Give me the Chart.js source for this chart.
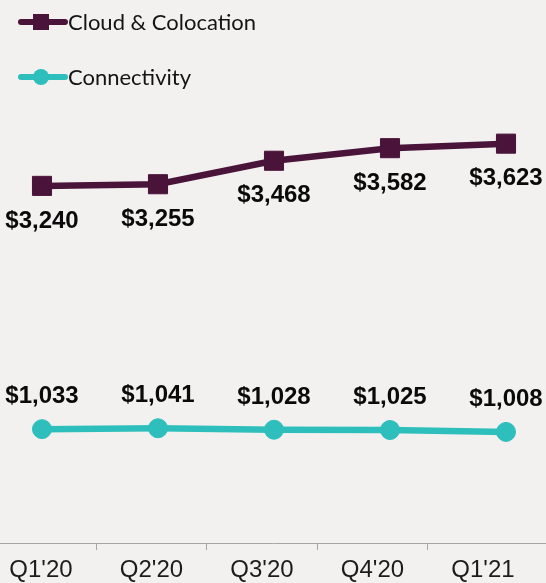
<!DOCTYPE html>
<html>
<head>
<meta charset="utf-8">
<script src="https://cdn.jsdelivr.net/npm/chart.js@4.4.0/dist/chart.umd.min.js"></script>
<style>
html, body { margin: 0; padding: 0; background: #f2f1f0; }
#wrap { position: relative; width: 546px; height: 583px; overflow: hidden; background: #f2f1f0; }
#chart { position: absolute; left: 0; top: 0; }
.item { position: absolute; left: 18px; height: 20px; display: flex; align-items: center; }
.sym { position: relative; width: 50px; height: 20px; flex: none; }
.sym .ln { position: absolute; left: 0; right: 0; top: 7px; height: 6px; border-radius: 3px; }
.sym .mk { position: absolute; left: 15px; top: 2px; width: 16px; height: 16px; }
.txt { font-family: Lato, "Open Sans", sans-serif; font-size: 22px; color: #141414; line-height: 20px; white-space: nowrap; }
</style>
</head>
<body>
<div id="wrap">
  <canvas id="chart" width="546" height="583"></canvas>
  <div id="legend"></div>
</div>
<script>
// ---- data ----
const categories = ["Q1'20", "Q2'20", "Q3'20", "Q4'20", "Q1'21"];
const seriesNames = ["Cloud & Colocation", "Connectivity"];
const cloudColocation = [3240, 3255, 3468, 3582, 3623];
const connectivity = [1033, 1041, 1028, 1025, 1008];

// ---- styles ----
const PURPLE = '#4a1339';
const TEAL = '#2ebfbc';
const AXIS = '#a6a6a6';

function toPoints(arr) { return arr.map((v, i) => ({ x: i, y: v })); }

// legend (HTML, real text)
const legendDefs = [
  { name: seriesNames[0], color: PURPLE, shape: 'square', top: 11.5 },
  { name: seriesNames[1], color: TEAL, shape: 'circle', top: 66.5 }
];
const legendEl = document.getElementById('legend');
legendDefs.forEach(d => {
  const item = document.createElement('div');
  item.className = 'item';
  item.style.top = d.top + 'px';
  const sym = document.createElement('div');
  sym.className = 'sym';
  const ln = document.createElement('div');
  ln.className = 'ln'; ln.style.background = d.color;
  const mk = document.createElement('div');
  mk.className = 'mk'; mk.style.background = d.color;
  if (d.shape === 'circle') mk.style.borderRadius = '50%';
  sym.appendChild(ln); sym.appendChild(mk);
  const txt = document.createElement('span');
  txt.className = 'txt'; txt.textContent = d.name;
  item.appendChild(sym); item.appendChild(txt);
  legendEl.appendChild(item);
});

// value labels plugin
const valueLabels = {
  id: 'valueLabels',
  afterDatasetsDraw(chart) {
    const ctx = chart.ctx;
    chart.data.datasets.forEach((ds, di) => {
      const meta = chart.getDatasetMeta(di);
      ctx.save();
      ctx.font = 'bold 24px "Liberation Sans", Arial, sans-serif';
      ctx.fillStyle = '#0a0a0a';
      ctx.textAlign = 'center';
      ctx.textBaseline = 'middle';
      meta.data.forEach((pt, i) => {
        const v = ds.data[i].y;
        ctx.fillText('$' + v.toLocaleString('en-US'), pt.x, pt.y + ds.labelOffset);
      });
      ctx.restore();
    });
  }
};

new Chart(document.getElementById('chart'), {
  type: 'line',
  data: {
    datasets: [
      {
        label: seriesNames[0],
        data: toPoints(cloudColocation),
        borderColor: PURPLE,
        backgroundColor: PURPLE,
        borderWidth: 6.5,
        pointStyle: 'rect',
        pointRadius: 13.5,
        pointBorderWidth: 1,
        pointHoverRadius: 13.5,
        clip: false,
        labelOffset: 35,
        xAxisID: 'x', yAxisID: 'y'
      },
      {
        label: seriesNames[1],
        data: toPoints(connectivity),
        borderColor: TEAL,
        backgroundColor: TEAL,
        borderWidth: 6.5,
        pointStyle: 'circle',
        pointRadius: 9.5,
        pointBorderWidth: 1,
        pointHoverRadius: 9.5,
        clip: false,
        labelOffset: -32.5,
        xAxisID: 'x', yAxisID: 'y'
      }
    ]
  },
  options: {
    responsive: false,
    animation: false,
    layout: { autoPadding: false, padding: { top: 47, left: 0, right: 0, bottom: 0 } },
    plugins: { legend: { display: false }, tooltip: { enabled: false } },
    scales: {
      x: {
        type: 'linear',
        display: false,
        min: -42 / 116,
        max: (546 - 42) / 116
      },
      xc: {
        type: 'linear',
        position: 'bottom',
        min: -41 / 110.5,
        max: (546 - 41) / 110.5,
        afterFit: (s) => { s.paddingLeft = 0; s.paddingRight = 0; s.height = 40; },
        grid: {
          offset: true,
          drawOnChartArea: false,
          drawTicks: true,
          tickLength: 7,
          color: AXIS,
          tickColor: (c) => (c.type === 'tick' ? AXIS : 'rgba(0,0,0,0)'),
          lineWidth: 1
        },
        border: { display: true, color: AXIS, width: 1 },
        ticks: {
          stepSize: 1,
          includeBounds: false,
          autoSkip: false,
          maxRotation: 0,
          padding: 6.8,
          color: '#1c1c1c',
          font: { family: '"Liberation Sans", Arial, sans-serif', size: 24, lineHeight: 1.1 },
          callback: (v) => categories[v] !== undefined ? categories[v] : ''
        }
      },
      y: {
        type: 'linear',
        display: false,
        min: 0,
        max: 4500
      }
    }
  },
  plugins: [valueLabels]
});
</script>
</body>
</html>
